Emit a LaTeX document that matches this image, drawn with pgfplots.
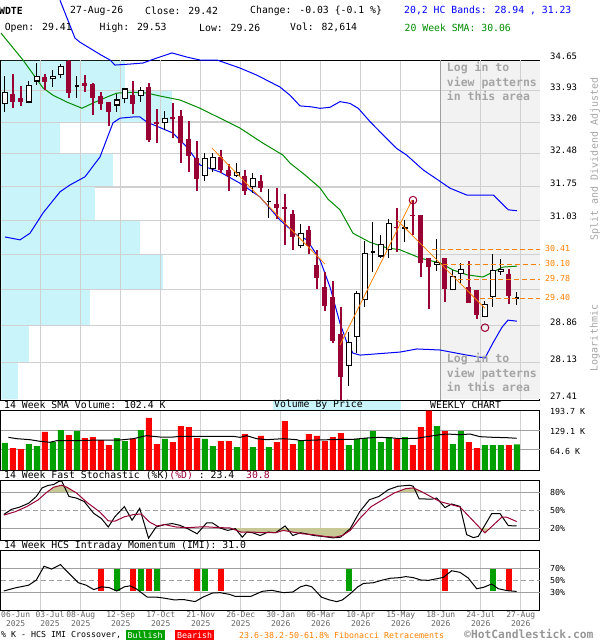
\documentclass[border=0pt]{standalone}
\usepackage{fontspec}
\setmainfont{DejaVu Sans Mono}
\usepackage{pgfplots}
\pgfplotsset{compat=1.18}
\definecolor{maroon}{RGB}{153,0,51}
\definecolor{bandblue}{RGB}{0,0,255}
\definecolor{smagreen}{RGB}{0,140,0}
\definecolor{fibor}{RGB}{255,128,0}
\definecolor{vbp}{RGB}{200,244,250}
\definecolor{gridc}{RGB}{208,208,208}
\definecolor{grid2}{RGB}{160,160,160}
\definecolor{patgray}{RGB}{242,242,242}
\definecolor{volgreen}{RGB}{0,160,0}
\definecolor{volred}{RGB}{255,0,0}
\definecolor{khaki}{RGB}{200,200,150}
\definecolor{txtgray}{RGB}{165,165,165}
\definecolor{dategray}{RGB}{100,100,100}
\definecolor{copygray}{RGB}{150,150,150}
\newcommand\fhdr{\fontsize{9.8}{11}\selectfont}
\newcommand\fpr{\fontsize{8.9}{10}\selectfont}
\newcommand\flo{\fontsize{8.3}{9}\selectfont}
\newcommand\fdt{\fontsize{8}{9}\selectfont}
% candles: index, open, high, low, close
\newcommand\cu[5]{%
 \addplot[black,line width=1pt] coordinates {(#1,#4)(#1,#3)};
 \addplot[black,line width=5.4pt] coordinates {(#1,#2)(#1,#5)};
 \addplot[white,line width=3.2pt,shorten <=1.1pt,shorten >=1.1pt] coordinates {(#1,#2)(#1,#5)};}
\newcommand\cj[5]{%
 \addplot[black,line width=1pt] coordinates {(#1,#4)(#1,#3)};
 \addplot[black,line width=5.4pt] coordinates {(#1,#2)(#1,#5)};}
\newcommand\cd[5]{%
 \addplot[maroon,line width=1.1pt] coordinates {(#1,#4)(#1,#3)};
 \addplot[maroon,line width=5pt] coordinates {(#1,#2)(#1,#5)};}
% doji: index, left, right, open=close, high, low
\newcommand\cz[6]{%
 \addplot[black,line width=1pt] coordinates {(#1,#6)(#1,#5)};
 \addplot[black,line width=1.6pt] coordinates {(#2,#4)(#3,#4)};}
\newcommand\hg[1]{\addplot[gridc,line width=1pt] coordinates {(-0.5,#1)(66.875,#1)};}
\newcommand\vg[1]{\addplot[gridc,line width=1pt] coordinates {(#1,27.41)(#1,34.65)};}
\pgfplotsset{panel/.style={scale only axis, width=539pt, xmin=-0.5, xmax=66.875,
  axis line style={black,line width=1pt}, major tick length=0pt,
  xtick={4.45,9.45,...,64.45}, xticklabels={}, xmajorgrids,
  major grid style={gridc,line width=1pt}, yticklabel pos=right,
  yticklabel style={anchor=west, inner sep=0pt, xshift=10pt}}}
\begin{document}
\begin{tikzpicture}[x=1pt,y=1pt]
\path[use as bounding box] (0,0) rectangle (600,-640);
% ---------------- main price panel (logarithmic price scale)
\begin{axis}[panel, at={(1pt,-60pt)}, anchor=north west, height=340pt,
  y coord trafo/.code={\pgfmathparse{ln(#1)}},
  y coord inv trafo/.code={\pgfmathparse{exp(#1)}},
  ymin=27.41, ymax=34.65, clip=false, ymajorgrids,
  ytick={27.41,28.13,28.86,29.58,30.31,31.03,31.75,32.48,33.20,33.93,34.65},
  yticklabels={27.41,28.13,28.86,{},{},31.03,31.75,32.48,33.20,33.93,34.65},
  yticklabel style={font=\fpr, yshift=3.5pt}]
\addplot[fill=vbp, draw=none] coordinates {
(-0.44,34.63)(15,34.63)(15,33.93)(20.875,33.93)(20.875,33.20)(6.875,33.20)(6.875,32.48)
(13.5,32.48)(13.5,31.75)(11.25,31.75)(11.25,31.03)(16.875,31.03)(16.875,30.31)
(19.75,30.31)(19.75,29.58)(10.625,29.58)(10.625,28.86)(3,28.86)(3,28.13)(1.625,28.13)
(1.625,27.42)(-0.44,27.42)};
\addplot[fill=patgray, draw=none] coordinates {
(54.46,27.42)(66.82,27.42)(66.82,34.63)(54.46,34.63)};
\hg{28.13}\hg{28.86}\hg{29.58}\hg{30.31}\hg{31.03}\hg{31.75}\hg{32.48}\hg{33.20}\hg{33.93}
\vg{4.45}\vg{9.45}\vg{14.45}\vg{19.45}\vg{59.45}\vg{64.45}
\addplot[grid2, line width=1pt] coordinates {(54.46,27.41)(54.46,34.65)};
\addplot[bandblue, line width=1pt] coordinates {
(6.875,36.11)(8.75,35.18)(9.375,35.08)(12,34.77)(13.125,34.65)(13.75,34.53)(15.625,34.555)
(17.25,34.58)(19,34.70)(20.875,34.82)(22.75,34.72)(24.375,34.65)(26.5,34.65)(29.375,34.46)
(31.5,34.29)(34.375,34.01)(35.625,33.82)(36.875,33.57)(38.34,33.55)(39.375,33.515)
(40.625,33.54)(41.875,33.67)(43.125,33.63)(44.16,33.515)(45.625,33.21)(47.29,32.90)
(48.96,32.60)(50.21,32.45)(52.29,32.12)(53.96,31.92)(55.625,31.72)(57.71,31.57)
(61.04,31.57)(62.91,31.25)(64,31.23)};
\addplot[bandblue, line width=1pt] coordinates {
(0,30.67)(1.875,30.61)(3.125,30.75)(4.75,31.18)(6.875,31.64)(8.125,31.79)(10,31.97)
(11.875,32.41)(13.5,33.18)(14.375,33.29)(16,33.315)(16.875,33.315)(17.75,33.20)(21,32.95)
(22.75,32.63)(24.375,32.23)(26.875,32.075)(29.375,31.83)(31.875,31.53)(34.375,31.03)
(36.5,30.71)(37.75,30.61)(39.375,30.19)(40.625,29.63)(41.875,28.90)(42.75,28.51)
(43.5,28.31)(44.375,28.27)(49.375,28.33)(51.5,28.39)(54.375,28.37)(57.75,28.27)
(60,28.215)(61,28.51)(62.125,28.82)(62.875,28.96)(64,28.94)};
\addplot[smagreen, line width=1pt] coordinates {
(-0.5,35.30)(2.25,34.65)(4.75,33.99)(6,33.82)(7.75,33.66)(9.625,33.52)(11,33.64)(12.75,33.78)
(14,33.87)(16,33.89)(17.75,33.87)(19.375,33.80)(21.875,33.71)(24.375,33.52)(26.875,33.29)
(29.375,33.06)(32.25,32.72)(34.75,32.45)(35.625,32.275)(37.5,32.01)(39.375,31.725)
(40.375,31.48)(41.875,31.25)(43.5,30.75)(45.625,30.56)(47.75,30.44)(49.375,30.40)
(51.875,30.23)(54.375,30.125)(56,29.98)(57.75,29.88)(59.75,29.835)(61,29.94)(62.25,30.04)(64,30.06)};
\cu{0}{33.61}{34.27}{33.44}{33.89}
\cd{1}{33.86}{34.32}{33.52}{33.67}
\cd{2}{33.75}{34.04}{33.57}{33.67}
\cu{3}{33.65}{34.15}{33.63}{34.07}
\cu{4}{34.14}{34.59}{34.06}{34.27}
\cd{5}{34.24}{34.32}{33.94}{34.14}
\cu{6}{34.19}{34.41}{34.02}{34.27}
\cu{7}{34.29}{34.56}{34.22}{34.51}
\cd{8}{34.64}{34.65}{33.75}{33.88}
\cz{9}{8.7}{9.3}{34.04}{34.27}{33.75}
\cd{10}{34.11}{34.29}{33.90}{34.04}
\cd{11}{34.08}{34.11}{33.36}{33.76}
\cd{12}{33.80}{33.89}{33.48}{33.61}
\cd{13}{33.67}{33.67}{33.12}{33.44}
\cu{14}{33.58}{33.84}{33.44}{33.72}
\cu{15}{33.72}{34.00}{33.63}{33.98}
\cd{16}{33.82}{34.15}{33.38}{33.61}
\cu{17}{33.80}{34.02}{33.67}{33.94}
\cd{18}{34.02}{34.10}{32.75}{32.79}
\cd{19}{33.21}{33.49}{32.73}{33.15}
\cu{20}{33.17}{33.45}{33.02}{33.29}
\cd{21}{33.31}{33.65}{32.83}{33.27}
\cd{22}{33.34}{33.48}{32.28}{32.72}
\cd{23}{32.81}{33.22}{32.08}{32.44}
\cd{24}{32.38}{32.77}{31.66}{31.92}
\cu{25}{31.99}{32.51}{31.88}{32.38}
\cu{26}{32.14}{32.51}{32.08}{32.42}
\cd{27}{32.40}{32.57}{32.06}{32.12}
\cd{28}{32.12}{32.25}{31.66}{31.99}
\cu{29}{31.99}{32.27}{31.97}{32.08}
\cd{30}{31.99}{32.12}{31.57}{31.66}
\cu{31}{31.75}{32.05}{31.62}{31.94}
\cd{32}{31.88}{32.01}{31.63}{31.73}
\cz{33}{32.7}{33.3}{31.43}{31.70}{31.07}
\cd{34}{31.38}{31.72}{31.05}{31.30}
\cd{35}{31.32}{31.60}{30.50}{31.26}
\cd{36}{31.16}{31.25}{30.40}{30.66}
\cu{37}{30.47}{30.95}{30.43}{30.75}
\cd{38}{30.82}{30.90}{30.31}{30.47}
\cd{39}{30.08}{30.40}{29.59}{29.82}
\cd{40}{29.62}{29.94}{29.15}{29.25}
\cd{41}{29.42}{29.76}{28.50}{28.55}
\cd{42}{28.69}{29.23}{27.41}{27.85}
\cu{43}{28.05}{28.73}{27.68}{28.52}
\cu{44}{28.62}{29.55}{28.32}{29.50}
\cu{45}{29.37}{30.58}{29.23}{30.33}
\cz{46}{45.7}{46.3}{30.36}{31.00}{29.94}
\cu{47}{30.26}{30.71}{30.22}{30.52}
\cu{48}{30.40}{31.05}{30.22}{30.96}
\cd{49}{30.88}{31.28}{30.36}{30.86}
\cj{50}{30.85}{31.03}{30.57}{30.89}
\cd{51}{31.13}{31.46}{30.71}{31.11}
\cd{52}{31.14}{31.14}{29.83}{30.12}
\cd{53}{30.22}{30.22}{29.18}{30.05}
\cu{54}{30.08}{30.62}{29.97}{30.15}
\cd{55}{30.22}{30.22}{29.33}{29.60}
\cu{56}{29.56}{29.99}{29.56}{29.86}
\cu{57}{29.89}{30.12}{29.72}{30.01}
\cd{58}{29.62}{30.17}{29.31}{29.31}
\cd{59}{29.57}{29.57}{28.98}{29.06}
\cu{60}{29.02}{29.35}{29.02}{29.28}
\cu{61}{29.42}{30.31}{29.23}{29.99}
\cu{62}{29.94}{30.21}{29.88}{30.01}
\cd{63}{29.90}{30.01}{29.29}{29.45}
\cz{64}{63.7}{64.3}{29.41}{29.53}{29.26}
\addplot[fibor, line width=0.8pt] coordinates {(25.875,32.61)(40,30.10)};
\addplot[fibor, line width=0.8pt] coordinates {(41.875,28.47)(50.875,31.46)};
\addplot[fibor, line width=0.8pt] coordinates {(49,31.03)(60,29.20)};
\addplot[fibor, line width=0.9pt, dash pattern=on 5pt off 3pt] coordinates {(53.34,30.41)(66.875,30.41)};
\addplot[fibor, line width=0.9pt, dash pattern=on 5pt off 3pt] coordinates {(54.75,30.10)(66.875,30.10)};
\addplot[fibor, line width=0.9pt, dash pattern=on 5pt off 3pt] coordinates {(56.6,29.78)(66.875,29.78)};
\addplot[fibor, line width=0.9pt, dash pattern=on 5pt off 3pt] coordinates {(59.4,29.40)(66.875,29.40)};
\addplot[only marks, mark=o, mark size=3.8pt, mark options={draw=maroon, line width=1pt}] coordinates {(51,31.46)(60,28.81)};
\end{axis}
% ---------------- volume panel
\begin{axis}[panel, at={(1pt,-410pt)}, anchor=north west, height=60pt, ymin=0, ymax=193.7,
  ytick={64.6,129.1,193.7}, yticklabels={64.6 K,129.1 K,193.7 K}, yticklabel style={font=\flo, yshift=-1.5pt}]
\addplot[grid2, line width=1pt] coordinates {(-0.5,64.6)(66.875,64.6)};
\addplot[grid2, line width=1pt] coordinates {(-0.5,129.1)(66.875,129.1)};
\addplot[ybar, bar width=6pt, bar shift=0pt, fill=volgreen, draw=none] coordinates {
(0,87.2)(3,83.9)(4,77.5)(6,90.4)(7,129.1)(9,125.9)(14,103.3)(15,93.6)(17,129.1)(20,100.1)
(25,100.1)(26,77.5)(29,74.2)(31,74.2)(33,74.2)(37,94.7)(43,80.7)(44,100.1)(45,103.3)(46,125.9)
(47,90.4)(48,106.5)(50,106.5)(54,142.0)(56,83.9)(57,125.9)(60,80.7)(61,80.7)(62,80.7)(64,82.6)};
\addplot[ybar, bar width=6pt, bar shift=0pt, fill=volred, draw=none] coordinates {
(1,71.0)(2,67.8)(5,122.7)(8,113.0)(10,103.3)(11,106.5)(12,96.8)(13,80.7)(16,101.1)(18,167.9)
(19,83.9)(21,90.4)(22,142.0)(23,138.8)(24,103.3)(27,93.6)(28,93.6)(30,116.2)(32,109.8)(34,90.4)
(35,158.2)(36,83.9)(38,116.2)(39,109.8)(40,93.6)(41,106.5)(42,119.4)(49,101.1)(51,80.7)(52,138.8)
(53,191.5)(55,125.9)(58,90.4)(59,71.0)(63,80.7)};
\addplot[black, line width=1pt] coordinates {
(0.42,105.5)(1.46,101.1)(3.125,97.9)(4.375,92.6)(5.625,89.4)(6.46,94.7)(8.54,94.7)(11.875,96.8)
(14.375,96.8)(16.04,101.1)(17.29,108.7)(17.71,110.8)(19.375,106.5)(21.04,106.5)(21.875,108.7)
(28.54,108.7)(29.375,105.5)(30.21,110.8)(31.46,101.1)(32.71,97.9)(34.79,101.1)(36.46,97.9)
(36.875,94.7)(38.96,96.8)(42.29,99.0)(43.54,99.0)(45.21,103.3)(46.875,105.5)(48.54,103.3)
(49.375,101.1)(51.46,102.2)(52.71,107.6)(54.375,114.0)(55.21,116.2)(56.875,114.0)(58.125,116.2)
(59.375,107.6)(61.04,105.5)(62.71,104.4)(63.96,102.4)};
\end{axis}
% ---------------- stochastic panel
\begin{axis}[panel, at={(1pt,-480pt)}, anchor=north west, height=60pt, ymin=0, ymax=100,
  ytick={20,50,80}, yticklabels={20\%,50\%,80\%}, yticklabel style={font=\flo}]
\addplot[grid2, line width=1pt] coordinates {(-0.5,80)(66.875,80)};
\addplot[grid2, line width=1pt] coordinates {(-0.5,20)(66.875,20)};
\addplot[grid2, line width=1pt, dash pattern=on 5pt off 3pt] coordinates {(-0.5,50)(66.875,50)};
% shaded zones where %D is beyond 80 / below 20
\addplot[fill=khaki, draw=none] coordinates {(5.28,80)(6.07,87.9)(7.03,91.3)(7.75,87.9)(8.73,80)};
\addplot[fill=khaki, draw=none] coordinates {(48.98,80)(50.09,85.7)(51.04,86.8)(52,81.1)(52.15,80)};
\addplot[fill=khaki, draw=none] coordinates {(28.14,20)(29.51,13.2)(30.95,13.2)(32.39,12.1)(33.82,12.1)
(34.78,16.0)(35.97,13.2)(37.17,10.4)(38.6,8.7)(40.04,5.8)(41.23,4.7)(42.19,7.5)(43.15,16.0)(43.39,20)};
\addplot[fill=khaki, draw=none] coordinates {(59.38,20)(59.59,17)(60,12)(60.64,20)};
\addplot[black, line width=1pt] coordinates {
(-0.15,42.6)(0.81,51.1)(1.77,54.5)(2.96,61.3)(3.92,72.6)(4.64,86.8)(5.35,90.8)(6.07,92.4)(6.79,98.1)
(7.1,98.1)(7.99,72.6)(8.94,69.8)(9.9,64.1)(11.1,44.3)(12.05,35.8)(12.91,21.7)(13.73,38.7)(14.92,55.7)
(15.88,33.0)(16.84,52.8)(17.94,3.0)(18.89,21.7)(19.95,25.7)(20.9,27.4)(21.86,24.5)(22.82,18.9)
(24.01,10.4)(25.21,28.5)(25.93,28.5)(26.88,20.0)(27.84,16.0)(28.8,18.9)(29.66,4.7)(30.23,13.2)
(30.95,12.1)(31.9,7.5)(32.86,13.2)(33.82,12.1)(35.01,23.4)(35.97,7.5)(36.93,12.1)(37.65,10.4)
(38.6,7.5)(39.8,5.8)(41,3.6)(41.95,4.7)(43.15,18.9)(44.34,47.2)(45.54,67.0)(46.74,72.6)(47.93,84.0)
(49.13,89.6)(50.56,91.3)(51.04,89.6)(51.76,68.7)(53.34,68)(53.96,70)(55,54)(55.84,60)(56.88,56)
(57.71,9)(58.54,4)(59.16,6)(60.84,44)(61.88,44)(62.91,24)(63.96,23.4)};
\addplot[maroon, line width=1pt] coordinates {
(-0.15,41.5)(1.29,47.2)(2.72,55.7)(4.16,67.0)(5.11,78.3)(6.07,87.9)(7.03,91.3)(7.75,87.9)(8.94,78.3)
(10.38,61.3)(11.81,47.2)(12.91,31.9)(13.73,31.3)(14.92,38.7)(16.12,42.6)(17.08,43.2)(18.03,30.2)
(18.99,23.4)(19.95,25.7)(21.38,21.7)(22.82,20.5)(24.25,21.7)(25.45,21.7)(26.88,20.5)(28.08,20.3)
(29.51,13.2)(30.95,13.2)(32.39,12.1)(33.82,12.1)(34.78,16.0)(35.97,13.2)(37.17,10.4)(38.6,8.7)
(40.04,5.8)(41.23,4.7)(42.19,7.5)(43.15,16.0)(44.34,35.8)(45.78,55.7)(47.21,67.0)(48.65,78.3)
(50.09,85.7)(51.04,86.8)(52,81.1)(53.54,70)(54.375,64)(56.875,55)(59.59,17)(60,12)(62.09,38)
(62.71,38)(63.96,30.8)};
\end{axis}
% ---------------- IMI panel
\begin{axis}[panel, at={(1pt,-550pt)}, anchor=north west, height=60pt, ymin=0, ymax=100,
  ytick={30,50,70}, yticklabels={30\%,50\%,70\%}, yticklabel style={font=\flo}]
\addplot[grid2, line width=1pt] coordinates {(-0.5,70)(66.875,70)};
\addplot[grid2, line width=1pt] coordinates {(-0.5,30)(66.875,30)};
\addplot[grid2, line width=1pt, dash pattern=on 5pt off 3pt] coordinates {(-0.5,50)(66.875,50)};
\addplot[volred, line width=6pt] coordinates {(12,32)(12,68)};
\addplot[volred, line width=6pt] coordinates {(16,32)(16,68)};
\addplot[volred, line width=6pt] coordinates {(18,32)(18,68)};
\addplot[volred, line width=6pt] coordinates {(24,32)(24,68)};
\addplot[volred, line width=6pt] coordinates {(27,32)(27,68)};
\addplot[volred, line width=6pt] coordinates {(55,32)(55,68)};
\addplot[volred, line width=6pt] coordinates {(63,32)(63,68)};
\addplot[volgreen, line width=6pt] coordinates {(14,32)(14,68)};
\addplot[volgreen, line width=6pt] coordinates {(17,32)(17,68)};
\addplot[volgreen, line width=6pt] coordinates {(19,32)(19,68)};
\addplot[volgreen, line width=6pt] coordinates {(25,32)(25,68)};
\addplot[volgreen, line width=6pt] coordinates {(43,32)(43,68)};
\addplot[volgreen, line width=6pt] coordinates {(61,32)(61,68)};
\addplot[black, line width=1pt] coordinates {
(-0.15,31.7)(1.29,36.9)(2.96,41.4)(3.92,50.0)(4.88,72.9)(5.83,68.3)(6.93,75.7)(7.75,64.3)(9.18,45.4)
(10.14,41.4)(11.1,34.0)(12.05,38.6)(13.01,37.4)(13.97,31.7)(14.92,38.6)(15.64,40.3)(16.36,35.7)
(17.79,21.4)(18.99,21.4)(19.95,19.7)(21.14,16.9)(22.34,17.4)(23.77,14.0)(24.73,21.4)(25.93,28.3)
(26.88,28.9)(28.08,26.0)(28.8,22.6)(30.71,22.6)(32.15,31.1)(33.34,32.9)(34.78,28.9)(35.97,30.0)
(36.93,38.6)(37.65,41.4)(38.36,38.6)(39.56,21.4)(40.52,16.9)(41.47,14.0)(42.19,16.9)(43.15,27.1)
(44.1,38.6)(44.82,44.3)(46.02,45.4)(47.21,50.0)(48.17,52.9)(49.37,54.0)(50.09,55.7)(51.04,54.0)
(52,50.0)(52.96,49.4)(53.34,50.5)(54.79,54.3)(55.84,65.5)(56.88,62.7)(57.91,53.3)(58.96,35.5)
(59.79,37.7)(60.84,43.3)(61.66,35.5)(62.79,32.2)(63.96,31.0)};
\end{axis}
% ---------------- texts
\begin{scope}[every node/.style={anchor=west, inner sep=0pt, font=\fhdr}]
\node[font=\fhdr\bfseries] at (-1,-10.7) {WDTE};
\node at (70,-10.7) {27-Aug-26};
\node at (145,-10.7) {Close: 29.42};
\node at (250,-10.7) {Change: -0.03 \{-0.1 \%\}};
\node[text=bandblue] at (404,-10.7) {20,2 HC Bands: 28.94 , 31.23};
\node at (4.6,-27.5) {Open: 29.41};
\node at (99.5,-27.5) {High: 29.53};
\node at (199,-27.5) {Low: 29.26};
\node at (290,-27.5) {Vol: 82,614};
\node[text=smagreen] at (404.5,-27.5) {20 Week SMA: 30.06};
\node[font=\flo, text=fibor] at (545,-248.5) {30.41};
\node[font=\flo, text=fibor] at (545,-263.5) {30.10};
\node[font=\flo, text=fibor] at (545,-278.5) {29.78};
\node[font=\flo, text=fibor] at (545,-297.5) {29.40};
\fill[vbp] (273,-400.6) rectangle (401,-409.5);
\node at (4,-405) {14 Week SMA Volume: 102.4 K};
\node at (274,-405) {Volume By Price};
\node at (430,-405) {WEEKLY CHART};
\node at (4,-475) {14 Week Fast Stochastic (\%K)\textcolor{maroon}{(\%D)} : 23.4~~\textcolor{maroon}{30.8}};
\node at (4,-545.5) {14 Week HCS Intraday Momentum (IMI): 31.0};
\node[font=\flo] at (1,-635) {\% K - HCS IMI Crossover,};
\node[font=\flo, fill=volgreen, text=white, inner xsep=2pt, minimum height=11pt] at (125.5,-635) {Bullish};
\node[font=\flo, fill=volred, text=white, inner xsep=2pt, minimum height=11pt] at (175,-635) {Bearish};
\node[font=\flo, text=fibor] at (239,-635) {23.6-38.2-50-61.8\% Fibonacci Retracements};
\node[font=\fontsize{11.3}{12}\selectfont\bfseries, text=copygray] at (464,-634) {©HotCandlestick.com};
\node[anchor=north west, align=left, font=\fontsize{11.5}{14.7}\selectfont\bfseries, text=txtgray] at (446.7,-62) {Log in to\\view patterns\\in this area};
\node[anchor=north west, align=left, font=\fontsize{11.5}{14.7}\selectfont\bfseries, text=txtgray] at (446.7,-353) {Log in to\\view patterns\\in this area};
\node[anchor=center, rotate=90, font=\fontsize{10}{12}\selectfont, text=txtgray] at (595,-159) {Split and Dividend Adjusted};
\node[anchor=center, rotate=90, font=\fontsize{10}{12}\selectfont, text=txtgray] at (595,-338) {Logarithmic};
\end{scope}
\begin{scope}[every node/.style={anchor=north, inner sep=0pt, align=center, font=\fdt, text=dategray}]
\node[anchor=north west] at (1,-611.5) {06-Jun\\2025};
\node at (50,-611.5) {03-Jul\\2025};
\node at (80.7,-611.5) {08-Aug\\2025};
\node at (120.7,-611.5) {12-Sep\\2025};
\node at (160.7,-611.5) {17-Oct\\2025};
\node at (200.7,-611.5) {21-Nov\\2025};
\node at (240.7,-611.5) {26-Dec\\2025};
\node at (280.7,-611.5) {30-Jan\\2026};
\node at (320.7,-611.5) {06-Mar\\2026};
\node at (360.7,-611.5) {10-Apr\\2026};
\node at (400.7,-611.5) {15-May\\2026};
\node at (440.7,-611.5) {18-Jun\\2026};
\node at (480.7,-611.5) {24-Jul\\2026};
\node at (520.7,-611.5) {27-Aug\\2026};
\end{scope}
\end{tikzpicture}
\end{document}
